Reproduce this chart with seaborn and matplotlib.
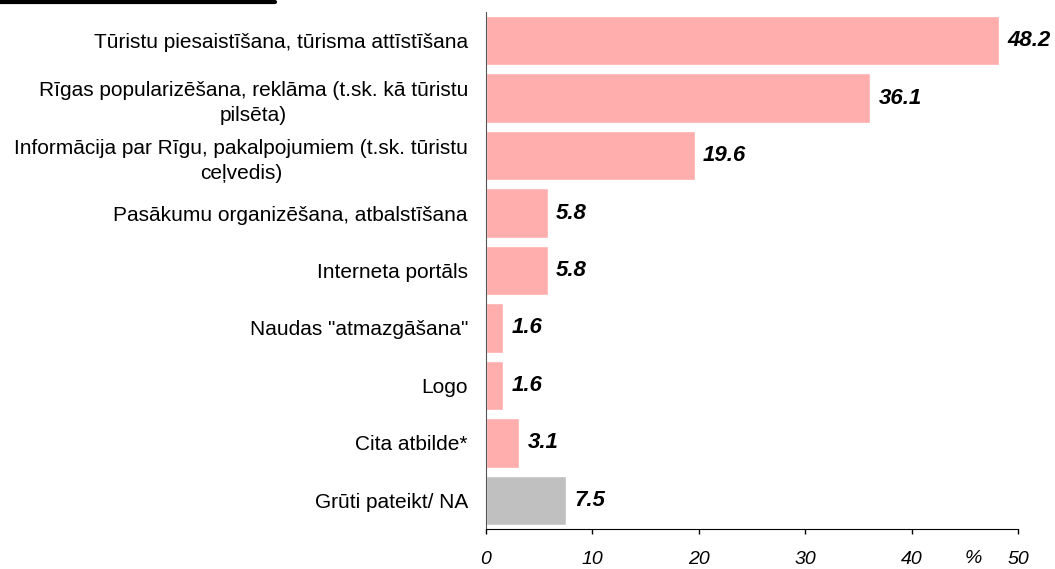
import numpy as np
import pandas as pd
import matplotlib
matplotlib.use("Agg")
import matplotlib.pyplot as plt
import seaborn as sns

# dati
kategorijas = [
    "Tūristu piesaistīšana, tūrisma attīstīšana",
    "Rīgas popularizēšana, reklāma (t.sk. kā tūristu\npilsēta)",
    "Informācija par Rīgu, pakalpojumiem (t.sk. tūristu\nceļvedis)",
    "Pasākumu organizēšana, atbalstīšana",
    "Interneta portāls",
    "Naudas \"atmazgāšana\"",
    "Logo",
    "Cita atbilde*",
    "Grūti pateikt/ NA",
]
vertibas = [48.2, 36.1, 19.6, 5.8, 5.8, 1.6, 1.6, 3.1, 7.5]
x_ticks = [0, 10, 20, 30, 40, 50]

krasas = ["#FFADAD"] * 8 + ["#C0C0C0"]

sns.set_style("white")
plt.rcParams['font.family'] = ['Liberation Sans', 'DejaVu Sans']
plt.rcParams['text.color'] = 'black'
plt.rcParams['xtick.color'] = 'black'
plt.rcParams['ytick.color'] = 'black'

df = pd.DataFrame({"kat": kategorijas, "val": vertibas})

fig = plt.figure(figsize=(10.55, 5.69), dpi=100)
ax = fig.add_axes([0.4607, 0.0703, 0.965 - 0.4607, 0.979 - 0.0703])

sns.barplot(data=df, y="kat", x="val", hue="kat", palette=krasas,
            legend=False, width=0.86, ax=ax, saturation=1)

ax.set_xlim(0, 50)
ax.set_ylim(8.5, -0.5)
ax.set_xticks(x_ticks)
ax.set_xticklabels([str(t) for t in x_ticks], fontsize=14, style='italic')
ax.set_xlabel("")
ax.set_ylabel("")
ax.tick_params(axis='x', bottom=True, direction='out', length=3.5, width=1,
               color='black', pad=12)
ax.tick_params(axis='y', left=False, length=0, pad=13, labelsize=15)
for lbl in ax.get_yticklabels():
    lbl.set_multialignment('center')
    lbl.set_linespacing(1.4)

for s in ['top', 'right']:
    ax.spines[s].set_visible(False)
ax.spines['left'].set_color('#555555')
ax.spines['bottom'].set_color('black')

# vērtību etiķetes
for i, v in enumerate(vertibas):
    ax.annotate(f"{v:.1f}", xy=(v, i), xytext=(6, 0), textcoords='offset points',
                va='center', ha='left', fontsize=16, fontweight='bold',
                style='italic', clip_on=False, annotation_clip=False)

ax.text(0.915, -0.04, "%", transform=ax.transAxes, fontsize=14,
        style='italic', va='top', ha='center')

# līnija augšējā kreisajā stūrī
fig.add_artist(plt.Line2D([0, 275 / 1055], [0.996, 0.996], color='black', lw=3))

fig.savefig("out.png", dpi=100)
